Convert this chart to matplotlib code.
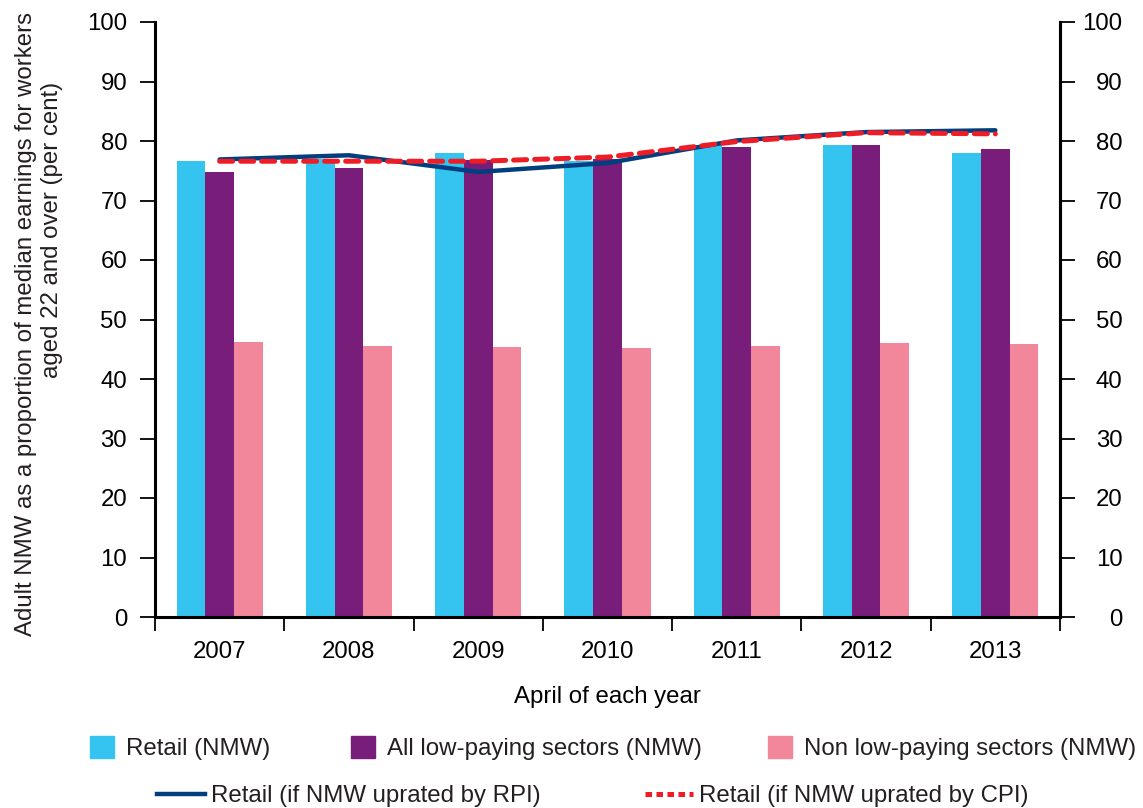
import numpy as np
import matplotlib
matplotlib.use('Agg')
import matplotlib.pyplot as plt
from matplotlib.patches import Patch
from matplotlib.lines import Line2D

# Datos

years = ['2007', '2008', '2009', '2010', '2011', '2012', '2013']
retail_nmw = [76.6, 76.9, 78.0, 76.6, 79.3, 79.3, 78.0]
low_paying_nmw = [74.8, 75.5, 76.8, 77.0, 79.0, 79.3, 78.7]
non_low_paying_nmw = [46.2, 45.5, 45.4, 45.2, 45.5, 46.0, 45.9]
retail_rpi = [76.9, 77.6, 74.8, 76.3, 80.1, 81.5, 81.8]
retail_cpi = [76.6, 76.6, 76.6, 77.3, 79.9, 81.4, 81.2]

# Estilo

plt.rcParams['font.family'] = ['Liberation Sans', 'DejaVu Sans']
plt.rcParams['font.size'] = 17.3
plt.rcParams['text.color'] = '#231f20'

c_retail = '#35c4f0'
c_low = '#781e7a'
c_non = '#f2869a'
c_rpi = '#003f7f'
c_cpi = '#ee1c25'

fig = plt.figure(figsize=(11.43, 8.08), dpi=100)
ax = fig.add_axes([155 / 1143, 1 - 617 / 808, (1060 - 155) / 1143, (617 - 22) / 808])

x = np.arange(len(years))
w = 0.222

ax.bar(x - w, retail_nmw, w, color=c_retail, zorder=2)
ax.bar(x, low_paying_nmw, w, color=c_low, zorder=2)
ax.bar(x + w, non_low_paying_nmw, w, color=c_non, zorder=2)

ax.plot(x, retail_rpi, color=c_rpi, lw=3.2, zorder=3, solid_capstyle='round')
ax.plot(x, retail_cpi, color=c_cpi, lw=3.6, zorder=4, dashes=(2.6, 1.6),
        dash_capstyle='round')

ax.set_xlim(-0.5, len(years) - 0.5)
ax.set_ylim(0, 100)

# Ejes

ax.spines['top'].set_visible(False)
for s in ['left', 'right', 'bottom']:
    ax.spines[s].set_linewidth(2.2)
    ax.spines[s].set_color('black')

ax.set_xticks(np.arange(-0.5, len(years), 1.0))
ax.set_xticklabels([])
ax.set_xticks(x, minor=True)
ax.set_xticklabels(years, minor=True)
ax.tick_params(axis='x', which='major', length=10, width=1.3, direction='out')
ax.tick_params(axis='x', which='minor', length=0, pad=17)

yt = np.arange(0, 101, 10)
ax.set_yticks(yt)
ax.tick_params(axis='y', length=11, width=1.3, direction='out', pad=9)

ax2 = ax.twinx()
ax2.set_ylim(0, 100)
ax2.set_yticks(yt)
ax2.set_yticklabels([str(v) for v in yt])
ax2.tick_params(axis='y', length=11, width=1.3, direction='out', pad=34)
plt.setp(ax2.get_yticklabels(), ha='right')
for s in ['top', 'left', 'bottom']:
    ax2.spines[s].set_visible(False)
ax2.spines['right'].set_linewidth(2.2)

ax.set_xlabel('April of each year', labelpad=17)

fig.text(26 / 1143, 1 - 324 / 808,
         'Adult NMW as a proportion of median earnings for workers',
         rotation=90, ha='center', va='center')
fig.text(52 / 1143, 1 - 230 / 808, 'aged 22 and over (per cent)',
         rotation=90, ha='center', va='center')

# Leyenda (una entrada por leyenda para fijar la posicion)

row1 = [(Patch(color=c_retail), 'Retail (NMW)', 90),
        (Patch(color=c_low), 'All low-paying sectors (NMW)', 351),
        (Patch(color=c_non), 'Non low-paying sectors (NMW)', 768)]
for h, lab, px in row1:
    fig.legend([h], [lab], loc='center left',
               bbox_to_anchor=(px / 1143, 1 - 748 / 808), frameon=False,
               handlelength=1.0, handleheight=1.0, handletextpad=0.5,
               borderaxespad=0, borderpad=0)

row2 = [(Line2D([], [], color=c_rpi, lw=3.2), 'Retail (if NMW uprated by RPI)', 157),
        (Line2D([], [], color=c_cpi, lw=3.6, dashes=(1.3, 0.9)),
         'Retail (if NMW uprated by CPI)', 645)]
for h, lab, px in row2:
    fig.legend([h], [lab], loc='center left',
               bbox_to_anchor=(px / 1143, 1 - 796 / 808), frameon=False,
               handlelength=2.0, handletextpad=0.25,
               borderaxespad=0, borderpad=0)

fig.savefig('out.png', dpi=100)
